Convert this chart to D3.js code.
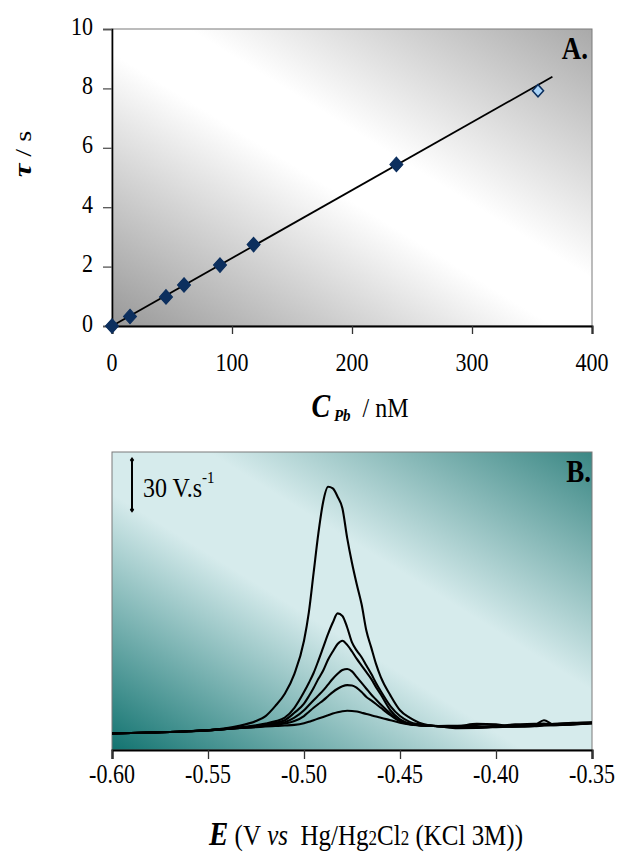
<!DOCTYPE html>
<html><head><meta charset="utf-8">
<script src="https://cdn.jsdelivr.net/npm/d3@7"></script>
<style>
html,body{margin:0;padding:0;background:#fff;}
svg{display:block;font-family:"Liberation Serif","Times New Roman",serif;}
</style></head>
<body><svg id="c" width="619" height="853"></svg>
<script>
// ---------- Panel A data ----------
const concNM = [0, 15, 45, 60, 90, 118, 237];
const tauS   = [0, 0.32, 0.98, 1.38, 2.05, 2.74, 5.44];
const outlierConc = [355];
const outlierTau  = [7.92];
const fitConc = [0, 367];
const fitTau  = [0.0, 8.39];
const xTicksA = [0, 100, 200, 300, 400];
const yTicksA = [0, 2, 4, 6, 8, 10];

// ---------- Panel B data ----------
const potentialV = [-0.600,-0.580,-0.560,-0.545,-0.535,-0.525,-0.520,-0.515,-0.510,-0.505,
  -0.500,-0.4975,-0.495,-0.4925,-0.490,-0.4875,-0.485,-0.4825,-0.480,-0.4775,
  -0.475,-0.4725,-0.470,-0.4675,-0.465,-0.4625,-0.460,-0.455,-0.450,-0.445,
  -0.440,-0.435,-0.430,-0.420,-0.410,-0.400,-0.390,-0.380,-0.375,-0.370,-0.360,-0.350];
const curve1 = [10.0,10.6,11.3,12.5,14.3,17.5,20.5,26.5,34,46, 66,83,107,131,150,159,158,153,146,128,
  113,100,88,72,62,52,44,33,24,19.5, 16.5,15,14.3,13.8,13.5,13.8,14.2,14.6,15.0,15.0,15.5,16.0];
const curve2 = [10.0,10.6,11.3,12.3,13.5,15,16,17.3,19.5,25.5, 35,40.5,46.5,54,62,70,77,82.5,81,74,
  65,60,56,51,46,40.5,35.5,26.5,20.5,17, 15.5,14.8,14.3,14.5,15.8,15.5,14.0,14.3,14.8,15.0,15.5,16.2];
const curve3 = [10.0,10.6,11.3,12.3,13.3,14.5,15.5,16.5,18,22.5, 28,32.5,37.5,43,48,54.5,59.5,64,66,63.5,
  59.5,55,51,47,43,38,33.5,24,18.5,16, 15,14.7,14.3,13.2,13.3,14.0,15.5,15.8,16.0,15.2,15.6,16.3];
const curve4 = [10.0,10.6,11.3,12.3,13.2,14.3,15,15.8,16.8,19.5, 24,27,30,33,36,39.5,43,46,48.3,48.9,
  47.5,44,40.5,37,33.5,30.5,27.5,22,17.5,15.7, 15,14.6,14.4,14.0,13.8,14.3,14.5,15.0,18.0,15.5,15.8,16.5];
const curve5 = [10.0,10.6,11.3,12.3,13.2,14,14.6,15.2,16,17.5, 20.5,23,25.5,27.8,30,32.5,35,37,38.5,39.2,
  39,37.5,35,32,30,27.8,25.5,21,17.3,15.6, 14.9,14.6,14.5,14.6,14.4,14.0,14.2,14.8,15.3,15.6,16.4,16.8];
const curve6 = [10.0,10.6,11.3,12.3,13.1,13.8,14.2,14.5,14.8,15.2, 16.2,17,18,19,20,21,22,22.8,23.4,23.7,
  23.6,23.2,22.5,21.8,21,20.2,19.5,18,16.5,15.5, 15,14.7,14.4,13.9,14.0,14.6,15.0,15.2,15.3,15.8,16.2,16.6];
const curvesB = [curve1, curve2, curve3, curve4, curve5, curve6];
const xTicksB = [-0.60, -0.55, -0.50, -0.45, -0.40, -0.35];
const scaleBarValue = 30;

const svg = d3.select("#c");
const defs = svg.append("defs");
const SY = 1.18;
const fmtB = v => d3.format(".2f")(v).replace("\u2212", "-");

function addGrad(id, stops) {
  const g = defs.append("linearGradient").attr("id", id)
    .attr("x1", 0).attr("y1", 1).attr("x2", 1).attr("y2", 0);
  stops.forEach(s => g.append("stop").attr("offset", s[0]).attr("stop-color", s[1]));
}
addGrad("gA", [[0, "#989898"], [0.46, "#ffffff"], [0.58, "#ffffff"], [1, "#a9a9a9"]]);
addGrad("gB", [[0, "#127370"], [0.43, "#d6ebec"], [0.6, "#d6ebec"], [1, "#3a8784"]]);

function txt(parent, x, y, sx, sy, rot) {
  return parent.append("text")
    .attr("transform", `translate(${x},${y})` + (rot ? ` rotate(${rot})` : "") + ` scale(${sx},${sy})`);
}

// ================= Panel A =================
const xA = d3.scaleLinear().domain([0, 400]).range([112, 592]);
const yA = d3.scaleLinear().domain([0, 10]).range([326, 29]);
const gA = svg.append("g");
gA.append("rect").attr("x", xA(0)).attr("y", yA(10))
  .attr("width", xA(400) - xA(0)).attr("height", yA(0) - yA(10))
  .attr("fill", "url(#gA)").attr("stroke", "#7a7a7a").attr("stroke-width", 1);

const axL = gA.append("g").attr("transform", `translate(${xA(0)},0)`)
  .call(d3.axisLeft(yA).tickValues(yTicksA).tickSize(9).tickFormat(""));
axL.select(".domain").attr("stroke", "#000").attr("stroke-width", 1.6);
axL.selectAll(".tick line").attr("stroke", "#555").attr("stroke-width", 1.3);
yTicksA.forEach(v => {
  txt(gA, 93, yA(v) + 5.5, 1, SY).attr("text-anchor", "end")
    .attr("font-size", 22).text(d3.format("d")(v));
});

const axB = gA.append("g").attr("transform", `translate(0,${yA(0)})`)
  .call(d3.axisBottom(xA).tickValues(xTicksA).tickSize(8).tickFormat(""));
axB.select(".domain").attr("stroke", "#000").attr("stroke-width", 2);
axB.selectAll(".tick line").attr("stroke", "#333").attr("stroke-width", 1.3);
xTicksA.forEach(v => {
  txt(gA, xA(v), 371, 1, SY).attr("text-anchor", "middle")
    .attr("font-size", 22).text(d3.format("d")(v));
});

// fit line
gA.append("path")
  .attr("d", d3.line().x((d, i) => xA(fitConc[i])).y(d => yA(d))(fitTau))
  .attr("stroke", "#000").attr("stroke-width", 1.8).attr("fill", "none");

function diamondPath(half) {
  return `M0,${-half}L${half},0L0,${half}L${-half},0Z`;
}
gA.selectAll(".pt").data(concNM).join("path")
  .attr("transform", (d, i) => `translate(${xA(d)},${yA(tauS[i])}) scale(1,1.12)`)
  .attr("d", diamondPath(6.5)).attr("fill", "#0c2f5e").attr("stroke", "#0c2f5e").attr("stroke-width", 1);
gA.selectAll(".out").data(outlierConc).join("path")
  .attr("transform", (d, i) => `translate(${xA(d)},${yA(outlierTau[i])}) scale(1,1.12)`)
  .attr("d", diamondPath(5.5)).attr("fill", "#a9d3f7").attr("stroke", "#0c2f5e").attr("stroke-width", 1.5);

// panel label
txt(gA, 588, 59, 1, SY).attr("text-anchor", "end").attr("font-size", 27)
  .attr("font-weight", "bold").text("A.");

// axis titles
const yt = txt(gA, 31, 154, SY, 1, -90).attr("text-anchor", "middle").attr("font-size", 24);
yt.append("tspan").attr("font-weight", "bold").attr("font-style", "italic").attr("font-size", 26).text("τ");
yt.append("tspan").text("\u00a0/ s");

const xt = txt(gA, 360, 417, 1, SY).attr("text-anchor", "middle").attr("font-size", 24);
xt.append("tspan").attr("font-weight", "bold").attr("font-style", "italic").attr("font-size", 28).text("C");
xt.append("tspan").attr("font-weight", "bold").attr("font-style", "italic").attr("font-size", 15).attr("dy", 3).text("\u00a0Pb");
xt.append("tspan").attr("dy", -3).text("\u00a0\u00a0/ nM");

// ================= Panel B =================
const xB = d3.scaleLinear().domain([-0.60, -0.35]).range([112, 592]);
const yB = d3.scaleLinear().domain([0, 180]).range([750, 452]);
const gB = svg.append("g");
gB.append("rect").attr("x", xB(-0.60)).attr("y", yB(180))
  .attr("width", xB(-0.35) - xB(-0.60)).attr("height", yB(0) - yB(180))
  .attr("fill", "url(#gB)").attr("stroke", "#7a7a7a").attr("stroke-width", 1);

const lineB = d3.line().x((d, i) => xB(potentialV[i])).y(d => yB(d)).curve(d3.curveMonotoneX);
gB.selectAll(".crv").data(curvesB).join("path")
  .attr("d", d => lineB(d)).attr("fill", "none").attr("stroke", "#000").attr("stroke-width", 2.1);

const axBB = gB.append("g").attr("transform", `translate(0,${yB(0)})`)
  .call(d3.axisBottom(xB).tickValues(xTicksB).tickSize(9).tickFormat(""));
axBB.select(".domain").attr("stroke", "#000").attr("stroke-width", 2.2);
axBB.selectAll(".tick line").attr("stroke", "#333").attr("stroke-width", 1.3);
xTicksB.forEach(v => {
  txt(gB, xB(v), 783, 1, 1.22).attr("text-anchor", "middle")
    .attr("font-size", 22).text(fmtB(v));
});

// scale bar
const sbTop = yB(180) + 8;
const sbX = 132;
gB.append("line").attr("x1", sbX).attr("x2", sbX).attr("y1", sbTop)
  .attr("y2", sbTop + (yB(0) - yB(scaleBarValue))).attr("stroke", "#000").attr("stroke-width", 2);
[sbTop, sbTop + (yB(0) - yB(scaleBarValue))].forEach(y => {
  gB.append("path").attr("transform", `translate(${sbX},${y})`).attr("d", "M0,-3L2.2,0L0,3L-2.2,0Z").attr("fill", "#000");
});
const sbt = txt(gB, 143, 497, 1, SY).attr("font-size", 24);
sbt.append("tspan").text("30 V.s");
sbt.append("tspan").attr("font-size", 15).attr("dy", -12).text("-1");

txt(gB, 591, 482, 1, SY).attr("text-anchor", "end").attr("font-size", 27)
  .attr("font-weight", "bold").text("B.");

const bt = txt(gB, 366, 845, 1, SY).attr("text-anchor", "middle").attr("font-size", 25);
bt.append("tspan").attr("font-weight", "bold").attr("font-style", "italic").attr("font-size", 29).text("E");
bt.append("tspan").text("\u00a0(V\u00a0");
bt.append("tspan").attr("font-style", "italic").text("vs");
bt.append("tspan").text("\u00a0\u00a0Hg/Hg");
bt.append("tspan").attr("font-size", 17).text("2");
bt.append("tspan").text("Cl");
bt.append("tspan").attr("font-size", 17).text("2");
bt.append("tspan").text("\u00a0(KCl\u00a03M))");
</script></body></html>
